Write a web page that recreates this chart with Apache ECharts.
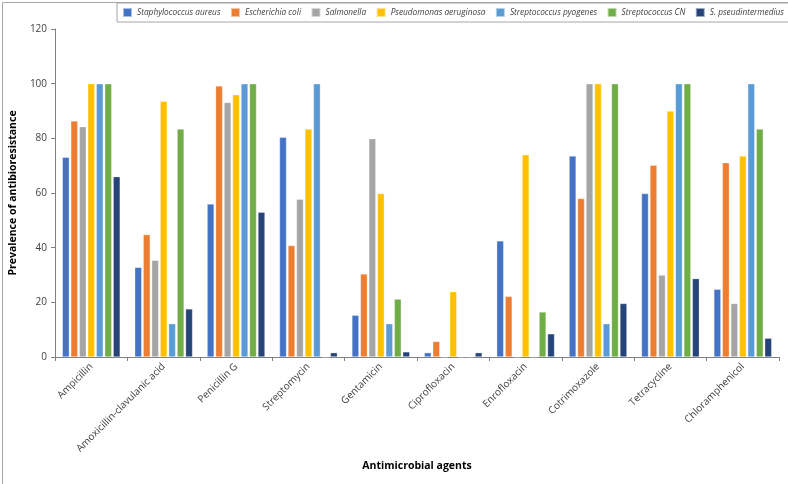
<!DOCTYPE html>
<html>
<head>
<meta charset="utf-8">
<script src="https://cdn.jsdelivr.net/npm/echarts@6/dist/echarts.min.js"></script>
<style>
html,body{margin:0;padding:0;background:#fff;}
#chart{width:788px;height:484px;}
</style>
</head>
<body>
<div id="chart"></div>
<script>
const categories = ['Ampicillin','Amoxicillin-clavulanic acid','Penicillin G','Streptomycin','Gentamicin','Ciprofloxacin','Enrofloxacin','Cotrimoxazole','Tetracycline','Chloramphenicol'];
const seriesNames = ['Staphylococcus aureus','Escherichia coli','Salmonella','Pseudomonas aeruginosa','Streptococcus pyogenes','Streptococcus CN','S. pseudintermedius'];
const staphAureus   = [73.1, 32.8, 56.0, 80.4, 15.3, 1.6, 42.5, 73.6, 59.8, 24.8];
const eColi         = [86.4, 44.8, 99.2, 40.8, 30.4, 5.7, 22.2, 58.0, 70.2, 71.1];
const salmonella    = [84.3, 35.4, 93.1, 57.7, 79.9, 0, 0, 100, 30.0, 19.6];
const pseudomonas   = [100, 93.6, 96.0, 83.4, 59.8, 23.9, 74.0, 100, 90.0, 73.6];
const strepPyogenes = [100, 12.2, 100, 100, 12.2, 0, 0, 12.2, 100, 100];
const strepCN       = [100, 83.4, 100, 0, 21.2, 0, 16.5, 100, 100, 83.4];
const sPseudint     = [66.0, 17.6, 53.0, 1.6, 1.9, 1.6, 8.5, 19.6, 28.7, 6.9];
const yTicks = [0, 20, 40, 60, 80, 100, 120];

const colors = ['#4472C4','#ED7D31','#A5A5A5','#FFC000','#5B9BD5','#70AD47','#264478'];
const allData = [staphAureus, eColi, salmonella, pseudomonas, strepPyogenes, strepCN, sPseudint];

const chart = echarts.init(document.getElementById('chart'));
const font = "'Open Sans', sans-serif";
chart.setOption({
  animation: false,
  textStyle: {fontFamily: font},
  color: colors,
  graphic: [{
    type: 'rect', left: 0, top: 0, silent: true,
    shape: {x: 0.5, y: 0.5, width: 787, height: 483},
    style: {fill: 'none', stroke: '#a6a6a6', lineWidth: 1}
  }],
  legend: {
    left: 117, top: 3, width: 680,
    itemWidth: 9, itemHeight: 9, itemGap: 9.5,
    padding: [4, 8, 4, 5],
    borderColor: '#a6a6a6', borderWidth: 1,
    icon: 'rect',
    textStyle: {fontStyle: 'italic', fontSize: 8.3, color: '#404040', fontFamily: font}
  },
  grid: {left: 55, right: 9, top: 29, bottom: 127},
  xAxis: {
    type: 'category',
    data: categories,
    name: 'Antimicrobial agents',
    nameLocation: 'middle',
    nameGap: 98,
    nameTextStyle: {fontWeight: 'bold', fontSize: 10.5, color: '#000'},
    axisLine: {lineStyle: {color: '#7f7f7f'}},
    axisTick: {show: true, length: 4, lineStyle: {color: '#7f7f7f'}},
    axisLabel: {rotate: 45, fontSize: 10, color: '#404040', margin: 8, interval: 0}
  },
  yAxis: {
    type: 'value',
    min: 0, max: 120, interval: 20,
    name: 'Prevalence of antibioresistance',
    nameLocation: 'middle',
    nameRotate: 90,
    nameGap: 26,
    nameTextStyle: {fontWeight: 'bold', fontSize: 10.5, color: '#000'},
    axisLine: {show: true, lineStyle: {color: '#7f7f7f'}},
    axisTick: {show: true, length: 4, lineStyle: {color: '#7f7f7f'}},
    splitLine: {show: false},
    axisLabel: {fontSize: 10, color: '#404040', margin: 8,
      formatter: v => yTicks.includes(v) ? String(v) : ''}
  },
  series: seriesNames.map((n, i) => ({
    name: n,
    type: 'bar',
    data: allData[i],
    barGap: '20%',
    barCategoryGap: '20%',
    itemStyle: {color: colors[i], borderColor: 'rgba(255,255,255,0.55)', borderWidth: 0.6}
  }))
});
</script>
</body>
</html>
